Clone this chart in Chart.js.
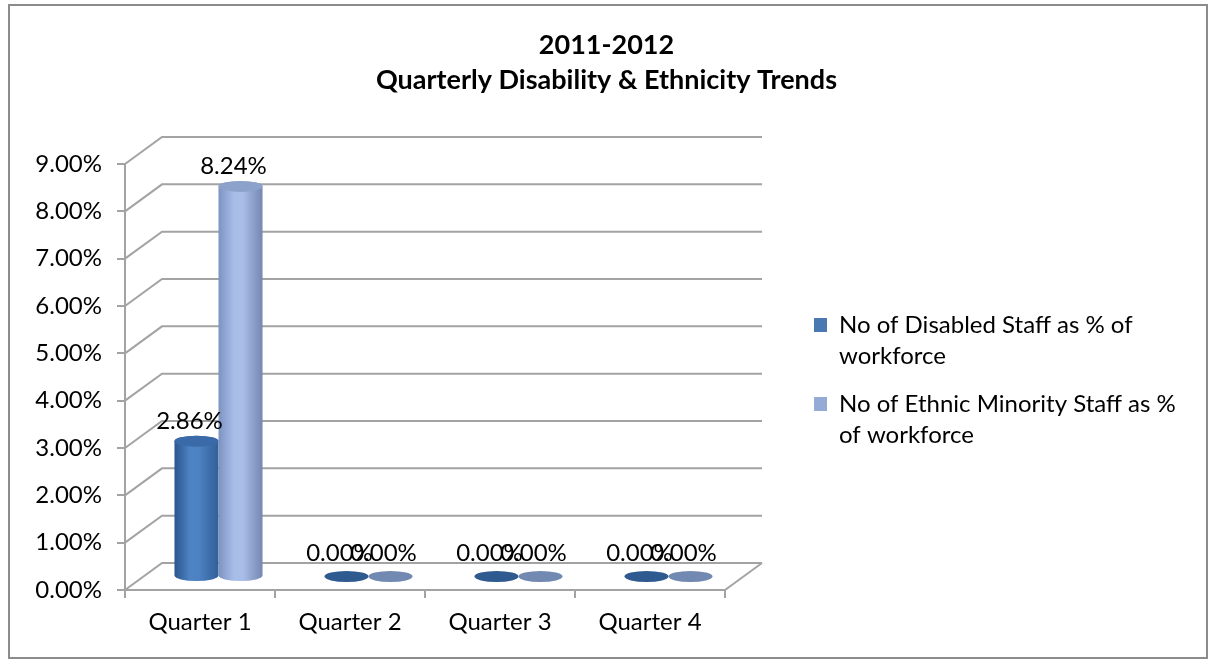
<!DOCTYPE html>
<html>
<head>
<meta charset="utf-8">
<script src="https://cdn.jsdelivr.net/npm/chart.js@4.4.0/dist/chart.umd.min.js"></script>
<style>
  html, body { margin: 0; padding: 0; background: #fff; }
  #wrap { position: relative; width: 1213px; height: 660px; }
  #frame { position: absolute; left: 8px; top: 4px; width: 1196px; height: 651px; border: 2px solid #8c8c8c; pointer-events: none; }
</style>
</head>
<body>
<div id="wrap">
  <canvas id="chart" width="1213" height="660"></canvas>
  <div id="frame"></div>
</div>
<script>
const title_lines = ['2011-2012', 'Quarterly Disability & Ethnicity Trends'];
const quarters = ['Quarter 1', 'Quarter 2', 'Quarter 3', 'Quarter 4'];
const disabled_pct = [2.86, 0, 0, 0];
const ethnic_pct = [8.24, 0, 0, 0];
const disabled_name = ['No of Disabled Staff as % of', 'workforce'];
const ethnic_name = ['No of Ethnic Minority Staff as %', 'of workforce'];
const y_max = 9;

// depth of the fake 3d box
const DX = 37, DY = 27;
const gridColor = '#a3a3a3';

// colours for each series cylinder
const cyl = [
    { left: '#2b568d', mid: '#4d82c3', right: '#325f98', top: '#3a6aa8', flat: '#2f5a90', legend: '#4a78b0' },
    { left: '#7c93c1', mid: '#a8bde8', right: '#7587b0', top: '#8da2ca', flat: '#7289b2', legend: '#95abd6' }
];

Chart.defaults.font.family = 'Lato, sans-serif';
Chart.defaults.color = '#000';

// back wall + side wall grid lines
const boxPlugin = {
    id: 'box3d',
    beforeDatasetsDraw(chart) {
        const ctx = chart.ctx;
        const y = chart.scales.y;
        const { left, right, bottom } = chart.chartArea;
        ctx.save();
        ctx.strokeStyle = gridColor;
        ctx.lineWidth = 2;
        y.ticks.forEach(t => {
            const py = y.getPixelForValue(t.value);
            ctx.beginPath();
            ctx.moveTo(left, py);
            ctx.lineTo(left + DX, py - DY);
            ctx.lineTo(right + DX, py - DY);
            ctx.stroke();
        });
        ctx.beginPath();
        ctx.moveTo(right, bottom);
        ctx.lineTo(right + DX, bottom - DY);
        ctx.stroke();
        ctx.restore();
    }
};

function drawCylinder(ctx, bar, c) {
    const cx = bar.x + DX / 2;
    const rx = bar.width / 2, ry = 5.5;
    const top = bar.y - DY / 2, base = bar.base - DY / 2;
    if (base - top < 1) {
        ctx.fillStyle = c.flat;
        ctx.beginPath();
        ctx.ellipse(cx, base, rx, ry, 0, 0, Math.PI * 2);
        ctx.fill();
        return top;
    }
    const g = ctx.createLinearGradient(cx - rx, 0, cx + rx, 0);
    g.addColorStop(0, c.left);
    g.addColorStop(0.35, c.mid);
    g.addColorStop(0.55, c.mid);
    g.addColorStop(1, c.right);
    ctx.fillStyle = g;
    ctx.beginPath();
    ctx.moveTo(cx - rx, top);
    ctx.lineTo(cx - rx, base);
    ctx.ellipse(cx, base, rx, ry, 0, Math.PI, 0, true);
    ctx.lineTo(cx + rx, top);
    ctx.ellipse(cx, top, rx, ry, 0, 0, Math.PI, true);
    ctx.closePath();
    ctx.fill();
    ctx.fillStyle = c.top;
    ctx.beginPath();
    ctx.ellipse(cx, top, rx, ry, 0, 0, Math.PI * 2);
    ctx.fill();
    return top;
}

// replaces the flat bars by cylinders and writes the value labels
const cylinderPlugin = {
    id: 'cylinders',
    beforeDatasetsDraw(chart) {
        const ctx = chart.ctx;
        ctx.save();
        const labels = [];
        for (let i = 0; i < quarters.length; i++) {
            chart.data.datasets.forEach((ds, d) => {
                const bar = chart.getDatasetMeta(d).data[i];
                const top = drawCylinder(ctx, bar, cyl[d]);
                const lift = ds.data[i] > 0 ? 20 : 23;
                labels.push([ds.data[i].toFixed(2) + '%', bar.x + DX / 2 - 7, top - lift]);
            });
        }
        ctx.fillStyle = '#000';
        ctx.font = '24px Lato, sans-serif';
        ctx.textAlign = 'center';
        ctx.textBaseline = 'middle';
        labels.forEach(l => ctx.fillText(l[0], l[1], l[2]));
        ctx.restore();
        return false;
    }
};

let ctx = document.getElementById('chart').getContext('2d');

let myChart = new Chart(ctx, {
    type: 'bar',
    data: {
        labels: quarters,
        datasets: [
            { label: disabled_name.join(' '), data: disabled_pct, backgroundColor: cyl[0].legend },
            { label: ethnic_name.join(' '), data: ethnic_pct, backgroundColor: cyl[1].legend }
        ]
    },
    options: {
        responsive: false,
        animation: false,
        layout: { padding: 0 },
        datasets: { bar: { categoryPercentage: 0.587, barPercentage: 1 } },
        scales: {
            x: {
                grid: { display: true, drawOnChartArea: false, drawTicks: true, tickLength: 8, color: gridColor, lineWidth: 2 },
                border: { display: true, color: gridColor, width: 2 },
                ticks: { font: { size: 24 }, padding: 10, color: '#000' },
                afterFit: s => { s.height = 70; }
            },
            y: {
                min: 0,
                max: y_max,
                grid: { display: true, drawOnChartArea: false, drawTicks: true, tickLength: 8, color: gridColor, lineWidth: 2 },
                border: { display: true, color: gridColor, width: 2 },
                ticks: { stepSize: 1, font: { size: 24 }, padding: 15, color: '#000', callback: v => v.toFixed(2) + '%' },
                afterFit: s => { s.width = 125; }
            },
            // empty space between the plot and the legend
            gap: {
                type: 'linear',
                position: 'right',
                display: true,
                grid: { display: false },
                border: { display: false },
                ticks: { display: false },
                afterFit: s => { s.width = 72; }
            },
            // empty space right of the legend
            edge: {
                type: 'linear',
                position: 'right',
                weight: 2000,
                display: true,
                grid: { display: false },
                border: { display: false },
                ticks: { display: false },
                afterFit: s => { s.width = 36; }
            }
        },
        plugins: {
            title: {
                display: true,
                text: title_lines,
                font: { size: 27, weight: 'bold', lineHeight: '35px' },
                color: '#000',
                padding: { top: 27.5, bottom: 66.5 }
            },
            legend: {
                position: 'right',
                fullSize: false,
                maxWidth: 380,
                onClick: (e) => e.stopPropagation(),
                title: { display: true, text: ' ', font: { size: 1, lineHeight: '13px' }, padding: 0 },
                labels: {
                    boxWidth: 13,
                    boxHeight: 14,
                    padding: 17,
                    font: { size: 24, lineHeight: '31px' },
                    color: '#000',
                    generateLabels: () => [
                        { text: disabled_name, fillStyle: cyl[0].legend, strokeStyle: cyl[0].legend, lineWidth: 0, datasetIndex: 0 },
                        { text: ethnic_name, fillStyle: cyl[1].legend, strokeStyle: cyl[1].legend, lineWidth: 0, datasetIndex: 1 }
                    ]
                }
            },
            tooltip: { enabled: false }
        }
    },
    plugins: [boxPlugin, cylinderPlugin]
});
</script>
</body>
</html>
